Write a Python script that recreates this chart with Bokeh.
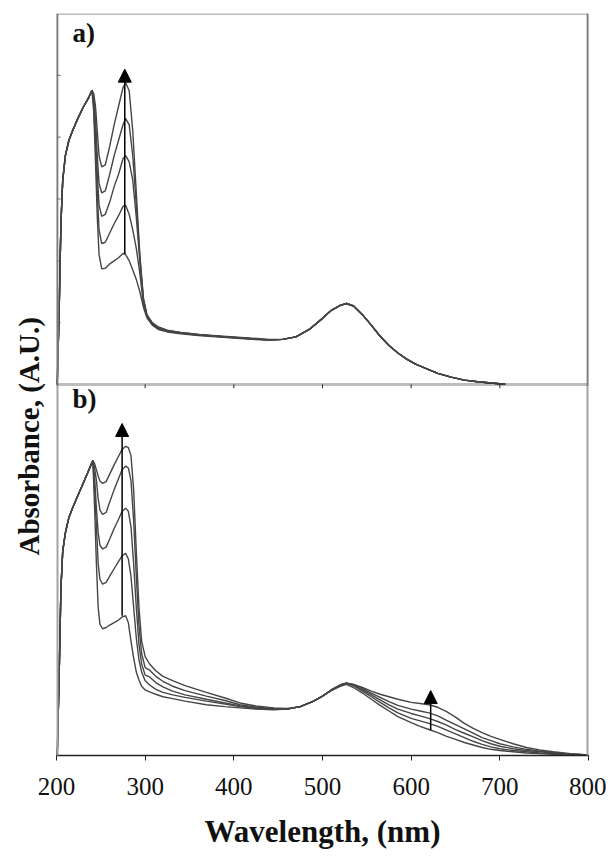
from bokeh.plotting import figure
from bokeh.models import Range1d, FixedTicker, BoxAnnotation, Arrow, NormalHead, Label, Span, Title
from bokeh.embed import file_html
from bokeh.resources import INLINE

# ---------------- data ----------------
x_ticks = [200, 300, 400, 500, 600, 700, 800]
top_yticks = [0.1, 0.2, 0.3, 0.4, 0.5]

# panel a)
top_wl = [200, 201, 203, 205, 207, 210, 214, 218, 224, 230,
          236, 240, 242, 244, 246, 248, 251, 255, 260, 265,
          270, 275, 278, 282, 286, 290, 294, 298, 302, 308,
          315, 325, 340, 360, 380, 400, 420, 440, 455, 470,
          485, 500, 510, 520, 527, 535, 545, 555, 565, 575,
          585, 595, 605, 615, 630, 645, 660, 675, 690, 706]

a1 = [0.0, 0.01, 0.12, 0.26, 0.33, 0.37, 0.395, 0.41, 0.43, 0.448,
      0.463, 0.476, 0.44, 0.36, 0.27, 0.21, 0.187, 0.188, 0.195, 0.200,
      0.205, 0.212, 0.210, 0.200, 0.185, 0.170, 0.150, 0.125, 0.108, 0.096,
      0.089, 0.085, 0.082, 0.079, 0.077, 0.075, 0.073, 0.072, 0.073, 0.077,
      0.089, 0.107, 0.120, 0.128, 0.131, 0.127, 0.113, 0.096, 0.078, 0.063,
      0.051, 0.041, 0.033, 0.027, 0.018, 0.012, 0.007, 0.0045, 0.0025, 0.0005]
a2 = [0.0, 0.01, 0.12, 0.26, 0.33, 0.37, 0.395, 0.41, 0.43, 0.448,
      0.463, 0.476, 0.45, 0.39, 0.31, 0.25, 0.228, 0.230, 0.245, 0.260,
      0.273, 0.288, 0.290, 0.275, 0.250, 0.220, 0.180, 0.130, 0.110, 0.097,
      0.090, 0.086, 0.083, 0.080, 0.078, 0.076, 0.074, 0.072, 0.073, 0.077,
      0.089, 0.107, 0.120, 0.128, 0.131, 0.127, 0.113, 0.096, 0.078, 0.063,
      0.051, 0.041, 0.033, 0.027, 0.018, 0.012, 0.007, 0.0045, 0.0025, 0.0005]
a3 = [0.0, 0.01, 0.12, 0.26, 0.33, 0.37, 0.395, 0.41, 0.43, 0.448,
      0.463, 0.476, 0.46, 0.41, 0.34, 0.29, 0.272, 0.275, 0.295, 0.320,
      0.340, 0.365, 0.370, 0.360, 0.330, 0.270, 0.200, 0.135, 0.111, 0.098,
      0.091, 0.086, 0.083, 0.080, 0.078, 0.076, 0.074, 0.072, 0.073, 0.077,
      0.089, 0.107, 0.120, 0.128, 0.131, 0.127, 0.113, 0.096, 0.078, 0.063,
      0.051, 0.041, 0.033, 0.027, 0.018, 0.012, 0.007, 0.0045, 0.0025, 0.0005]
a4 = [0.0, 0.01, 0.12, 0.26, 0.33, 0.37, 0.395, 0.41, 0.43, 0.448,
      0.463, 0.476, 0.465, 0.43, 0.37, 0.325, 0.310, 0.313, 0.340, 0.370,
      0.395, 0.420, 0.430, 0.420, 0.370, 0.290, 0.205, 0.138, 0.112, 0.099,
      0.092, 0.087, 0.084, 0.081, 0.078, 0.076, 0.074, 0.072, 0.073, 0.077,
      0.089, 0.107, 0.120, 0.128, 0.131, 0.127, 0.113, 0.096, 0.078, 0.063,
      0.051, 0.041, 0.033, 0.027, 0.018, 0.012, 0.007, 0.0045, 0.0025, 0.0005]
a5 = [0.0, 0.01, 0.12, 0.26, 0.33, 0.37, 0.395, 0.41, 0.43, 0.448,
      0.463, 0.476, 0.470, 0.45, 0.41, 0.37, 0.352, 0.355, 0.385, 0.420,
      0.450, 0.480, 0.488, 0.475, 0.410, 0.310, 0.210, 0.140, 0.113, 0.100,
      0.093, 0.088, 0.084, 0.081, 0.079, 0.077, 0.075, 0.073, 0.073, 0.077,
      0.089, 0.107, 0.120, 0.128, 0.131, 0.127, 0.113, 0.096, 0.078, 0.063,
      0.051, 0.041, 0.033, 0.027, 0.018, 0.012, 0.007, 0.0045, 0.0025, 0.0005]
top_curves = [a1, a2, a3, a4, a5]

# panel b)
bot_wl = [200, 201, 203, 205, 207, 210, 214, 218, 224, 230,
          236, 241, 243, 245, 247, 249, 252, 256, 260, 265,
          270, 274, 278, 281, 284, 287, 290, 293, 296, 300,
          305, 312, 320, 331, 345, 369, 390, 407, 425, 445,
          460, 475, 490, 500, 510, 520, 527, 535, 545, 555,
          565, 575, 585, 600, 610, 620, 630, 640, 650, 660,
          670, 680, 690, 700, 715, 730, 745, 760, 780, 800]

b1 = [0.0, 0.01, 0.13, 0.27, 0.33, 0.36, 0.385, 0.40, 0.42, 0.44,
      0.46, 0.477, 0.40, 0.31, 0.24, 0.212, 0.205, 0.207, 0.211, 0.215,
      0.219, 0.224, 0.226, 0.215, 0.185, 0.158, 0.135, 0.122, 0.112, 0.106,
      0.103, 0.099, 0.095, 0.092, 0.088, 0.082, 0.079, 0.077, 0.075, 0.074,
      0.075, 0.079, 0.088, 0.096, 0.105, 0.112, 0.115, 0.110, 0.101, 0.091,
      0.081, 0.072, 0.063, 0.053, 0.047, 0.042, 0.037, 0.031, 0.026, 0.021,
      0.017, 0.013, 0.010, 0.008, 0.006, 0.004, 0.003, 0.002, 0.001, 0.0]
b2 = [0.0, 0.01, 0.13, 0.27, 0.33, 0.36, 0.385, 0.40, 0.42, 0.44,
      0.46, 0.477, 0.43, 0.37, 0.31, 0.285, 0.277, 0.280, 0.290, 0.302,
      0.314, 0.323, 0.327, 0.318, 0.290, 0.240, 0.190, 0.155, 0.135, 0.121,
      0.114, 0.107, 0.102, 0.098, 0.094, 0.088, 0.083, 0.079, 0.076, 0.075,
      0.075, 0.079, 0.088, 0.096, 0.106, 0.114, 0.117, 0.113, 0.104, 0.095,
      0.086, 0.077, 0.069, 0.060, 0.056, 0.052, 0.047, 0.041, 0.035, 0.029,
      0.023, 0.018, 0.014, 0.011, 0.008, 0.006, 0.004, 0.003, 0.002, 0.001]
b3 = [0.0, 0.01, 0.13, 0.27, 0.33, 0.36, 0.385, 0.40, 0.42, 0.44,
      0.46, 0.477, 0.45, 0.40, 0.36, 0.340, 0.334, 0.337, 0.350, 0.367,
      0.382, 0.395, 0.400, 0.395, 0.370, 0.310, 0.240, 0.180, 0.148, 0.130,
      0.127, 0.118, 0.111, 0.104, 0.098, 0.091, 0.085, 0.080, 0.077, 0.075,
      0.075, 0.079, 0.088, 0.096, 0.106, 0.114, 0.117, 0.114, 0.106, 0.098,
      0.090, 0.082, 0.075, 0.068, 0.064, 0.060, 0.055, 0.049, 0.042, 0.036,
      0.030, 0.024, 0.019, 0.015, 0.011, 0.008, 0.006, 0.004, 0.002, 0.001]
b4 = [0.0, 0.01, 0.13, 0.27, 0.33, 0.36, 0.385, 0.40, 0.42, 0.44,
      0.46, 0.477, 0.465, 0.445, 0.415, 0.397, 0.390, 0.393, 0.410, 0.430,
      0.448, 0.462, 0.468, 0.465, 0.445, 0.380, 0.290, 0.210, 0.165, 0.142,
      0.138, 0.128, 0.120, 0.112, 0.105, 0.096, 0.089, 0.082, 0.078, 0.076,
      0.075, 0.079, 0.088, 0.096, 0.106, 0.114, 0.117, 0.115, 0.108, 0.101,
      0.094, 0.087, 0.081, 0.075, 0.072, 0.069, 0.064, 0.057, 0.050, 0.043,
      0.036, 0.029, 0.024, 0.019, 0.014, 0.010, 0.007, 0.005, 0.002, 0.001]
b5 = [0.0, 0.01, 0.13, 0.27, 0.33, 0.36, 0.385, 0.40, 0.42, 0.44,
      0.46, 0.477, 0.472, 0.462, 0.452, 0.444, 0.440, 0.443, 0.455, 0.470,
      0.484, 0.495, 0.500, 0.498, 0.485, 0.430, 0.330, 0.240, 0.185, 0.160,
      0.148, 0.137, 0.128, 0.121, 0.113, 0.102, 0.093, 0.085, 0.080, 0.077,
      0.076, 0.079, 0.088, 0.096, 0.106, 0.114, 0.117, 0.115, 0.110, 0.104,
      0.099, 0.095, 0.091, 0.086, 0.084, 0.082, 0.078, 0.071, 0.062, 0.052,
      0.044, 0.037, 0.031, 0.026, 0.019, 0.013, 0.009, 0.006, 0.003, 0.001]
bot_curves = [b1, b2, b3, b4, b5]

# arrows: (x, y_start, y_end)
arrow_a = (277, 0.211, 0.51)
arrow_b_uv = (274, 0.226, 0.537)
arrow_b_vis = (622, 0.041, 0.105)

SERIF = "Liberation Serif"
CURVE_COLOR = "#454545"
PANEL_MAX = 0.6

# ---------------- figure ----------------
p = figure(width=606, height=851, x_range=Range1d(200, 800), y_range=Range1d(0, 2 * PANEL_MAX),
           output_backend="svg", toolbar_location=None, y_axis_location=None,
           min_border_left=56, min_border_right=18, min_border_top=13, min_border_bottom=96)
p.extra_y_ranges = {"top": Range1d(-PANEL_MAX, PANEL_MAX)}
p.grid.visible = False
p.outline_line_color = None

xa = p.xaxis[0]
xa.ticker = FixedTicker(ticks=x_ticks)
xa.axis_label = "Wavelength, (nm)"
xa.axis_label_text_font = SERIF
xa.axis_label_text_font_style = "bold"
xa.axis_label_text_font_size = "31px"
xa.axis_label_text_color = "#111111"
xa.axis_label_standoff = 16
xa.major_label_text_font = SERIF
xa.major_label_text_font_size = "25px"
xa.major_label_text_color = "#111111"
xa.major_label_standoff = 17
xa.major_tick_out = 5
xa.major_tick_in = 0
xa.minor_tick_out = 0
xa.minor_tick_in = 0
xa.axis_line_color = "#222222"
xa.axis_line_width = 1.5
xa.major_tick_line_color = "#222222"

# y label spanning both panels (left side panel)
ytitle = Title(text="Absorbance, (A.U.)", align="left", offset=200, standoff=20,
               vertical_align="top",
               text_font=SERIF, text_font_style="bold", text_font_size="29px",
               text_color="#111111")
p.add_layout(ytitle, "left")

# grey sides of panel b), black frame of panel a)
p.add_layout(Span(location=x_ticks[0], dimension="height", line_color="#a3a3a3", line_width=4))
p.add_layout(Span(location=x_ticks[-1], dimension="height", line_color="#a3a3a3", line_width=4))
p.add_layout(BoxAnnotation(left=x_ticks[0], right=x_ticks[-1], bottom=PANEL_MAX, top=2 * PANEL_MAX,
                           fill_alpha=0, line_color="#222222", line_width=3))

# inward y ticks of panel a) (no labels)
p.segment(x0=[x_ticks[0]] * len(top_yticks), y0=top_yticks,
          x1=[x_ticks[0] + 4.5] * len(top_yticks), y1=top_yticks,
          y_range_name="top", line_color="#555555", line_width=1)
# small x ticks of panel a) hanging below its lower edge
p.segment(x0=x_ticks[1:-1], y0=[0] * 5, x1=x_ticks[1:-1], y1=[-0.006] * 5,
          y_range_name="top", line_color="#222222", line_width=1)

for c in top_curves:
    p.line(top_wl, c, y_range_name="top", line_color=CURVE_COLOR, line_width=1.4)
for c in bot_curves:
    p.line(bot_wl, c, line_color=CURVE_COLOR, line_width=1.4)

p.add_layout(Arrow(end=NormalHead(size=13, fill_color="black", line_color="black"),
                   x_start=arrow_a[0], y_start=arrow_a[1], x_end=arrow_a[0], y_end=arrow_a[2],
                   y_range_name="top", line_color="black", line_width=1.5))
for ax_, ay0, ay1 in (arrow_b_uv, arrow_b_vis):
    p.add_layout(Arrow(end=NormalHead(size=13, fill_color="black", line_color="black"),
                       x_start=ax_, y_start=ay0, x_end=ax_, y_end=ay1,
                       line_color="black", line_width=1.5))

p.add_layout(Label(x=218, y=0.593, y_range_name="top", text="a)", text_font=SERIF,
                   text_font_style="bold", text_font_size="27px", text_baseline="top",
                   text_color="#111111"))
p.add_layout(Label(x=218, y=0.601, text="b)", text_font=SERIF,
                   text_font_style="bold", text_font_size="27px", text_baseline="top",
                   text_color="#111111"))

open("out.html", "w").write(file_html(p, INLINE))
